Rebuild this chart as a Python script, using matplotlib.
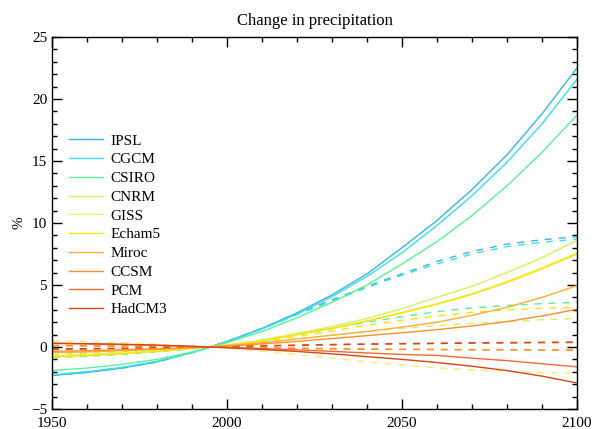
import numpy as np
import matplotlib
matplotlib.use('Agg')
import matplotlib.pyplot as plt
from matplotlib.ticker import MultipleLocator

plt.rcParams['font.family'] = ['Liberation Serif', 'DejaVu Serif']

years = [1950, 1960, 1970, 1980, 1990, 2000, 2010, 2020,
         2030, 2040, 2050, 2060, 2070, 2080, 2090, 2100]

models = ['IPSL', 'CGCM', 'CSIRO', 'CNRM', 'GISS',
          'Echam5', 'Miroc', 'CCSM', 'PCM', 'HadCM3']

colors = ['#3bb5dc', '#3fdcec', '#5cf09a', '#d4f060', '#f0f070',
          '#f8e400', '#f8b030', '#f89030', '#f06a30', '#d84418']

# solid runs (% change)
solid = {
    'IPSL':   [-2.3, -2.05, -1.7, -1.2, -0.45, 0.45, 1.5, 2.75, 4.2, 5.9, 8.0, 10.2, 12.7, 15.5, 18.8, 22.5],
    'CGCM':   [-2.25, -2.0, -1.65, -1.15, -0.45, 0.4, 1.45, 2.65, 4.05, 5.7, 7.6, 9.8, 12.2, 14.9, 18.0, 21.6],
    'CSIRO':  [-1.9, -1.7, -1.4, -1.0, -0.4, 0.35, 1.25, 2.35, 3.6, 5.0, 6.7, 8.5, 10.6, 13.0, 15.7, 18.7],
    'CNRM':   [-0.7, -0.6, -0.45, -0.3, -0.1, 0.15, 0.55, 1.1, 1.65, 2.3, 3.1, 4.0, 4.9, 6.0, 7.2, 8.6],
    'GISS':   [-0.75, -0.65, -0.5, -0.35, -0.1, 0.15, 0.5, 1.0, 1.5, 2.1, 2.8, 3.5, 4.3, 5.3, 6.4, 7.6],
    'Echam5': [-0.8, -0.7, -0.55, -0.35, -0.1, 0.15, 0.5, 1.0, 1.5, 2.1, 2.75, 3.45, 4.25, 5.2, 6.3, 7.5],
    'Miroc':  [-0.45, -0.4, -0.3, -0.2, -0.07, 0.1, 0.35, 0.65, 0.95, 1.25, 1.6, 2.0, 2.55, 3.2, 4.0, 4.95],
    'CCSM':   [-0.35, -0.3, -0.22, -0.15, -0.05, 0.07, 0.25, 0.45, 0.68, 0.92, 1.15, 1.4, 1.7, 2.05, 2.5, 3.05],
    'PCM':    [0.3, 0.25, 0.2, 0.13, 0.05, -0.03, -0.12, -0.23, -0.35, -0.48, -0.6, -0.68, -0.9, -1.1, -1.35, -1.6],
    'HadCM3': [0.3, 0.27, 0.22, 0.15, 0.05, -0.06, -0.2, -0.36, -0.55, -0.78, -1.0, -1.25, -1.55, -1.9, -2.35, -2.9],
}

# dashed runs (% change)
dashed = {
    'IPSL':   [-2.3, -2.05, -1.7, -1.2, -0.45, 0.45, 1.5, 2.7, 3.8, 4.9, 5.9, 6.9, 7.7, 8.3, 8.65, 8.9],
    'CGCM':   [-2.25, -2.0, -1.65, -1.15, -0.45, 0.4, 1.45, 2.6, 3.7, 4.8, 5.8, 6.7, 7.5, 8.1, 8.45, 8.7],
    'CSIRO':  [-0.85, -0.75, -0.6, -0.4, -0.15, 0.15, 0.55, 1.0, 1.5, 2.0, 2.45, 2.85, 3.15, 3.35, 3.5, 3.6],
    'CNRM':   [-0.6, -0.5, -0.4, -0.3, -0.1, 0.1, 0.35, 0.65, 0.95, 1.25, 1.5, 1.72, 1.9, 2.05, 2.2, 2.3],
    'GISS':   [0.5, 0.45, 0.35, 0.22, 0.07, -0.1, -0.35, -0.62, -0.9, -1.2, -1.45, -1.68, -1.85, -1.97, -2.05, -2.1],
    'Echam5': [-0.7, -0.6, -0.5, -0.35, -0.1, 0.12, 0.45, 0.85, 1.3, 1.75, 2.15, 2.5, 2.8, 3.0, 3.12, 3.2],
    'Miroc':  [0.15, 0.12, 0.09, 0.06, 0.02, -0.02, -0.07, -0.12, -0.15, -0.18, -0.2, -0.21, -0.22, -0.23, -0.24, -0.25],
    'CCSM':   [0.1, 0.08, 0.06, 0.04, 0.01, -0.02, -0.06, -0.1, -0.13, -0.16, -0.18, -0.2, -0.22, -0.23, -0.24, -0.25],
    'PCM':    [-0.2, -0.17, -0.13, -0.08, -0.02, 0.04, 0.1, 0.16, 0.21, 0.25, 0.28, 0.31, 0.34, 0.36, 0.38, 0.4],
    'HadCM3': [-0.15, -0.13, -0.1, -0.06, -0.02, 0.03, 0.08, 0.13, 0.18, 0.22, 0.25, 0.28, 0.31, 0.33, 0.35, 0.37],
}

fig = plt.figure(figsize=(5.94, 4.29), dpi=100)
ax = fig.add_axes([52 / 594, 1 - 409 / 429, 525 / 594, 372 / 429])

for m, c in zip(models, colors):
    ax.plot(years, dashed[m], color=c, lw=1.0, linestyle=(0, (5, 5)))
for m, c in zip(models, colors):
    ax.plot(years, solid[m], color=c, lw=1.0, label=m)

ax.set_xlim(1950, 2100)
ax.set_ylim(-5, 25)
ax.xaxis.set_major_locator(MultipleLocator(50))
ax.xaxis.set_minor_locator(MultipleLocator(10))
ax.yaxis.set_major_locator(MultipleLocator(5))
ax.yaxis.set_minor_locator(MultipleLocator(1))
ax.tick_params(which='both', direction='in', top=True, right=True,
               labelsize=11, width=1)
ax.tick_params(which='major', length=7)
ax.tick_params(which='minor', length=3.5)
ax.tick_params(axis='x', which='major', pad=6)
for s in ax.spines.values():
    s.set_linewidth(1)

ax.set_title('Change in precipitation', fontsize=12, pad=9)
ax.set_ylabel('%', fontsize=11)

ax.legend(loc='upper left', bbox_to_anchor=(69 / 594, 1 - 134 / 429),
          bbox_transform=fig.transFigure, frameon=False, fontsize=11,
          handlelength=2.2, handletextpad=0.5, labelspacing=0.33,
          borderpad=0, borderaxespad=0)

plt.savefig('out.png', dpi=100)
